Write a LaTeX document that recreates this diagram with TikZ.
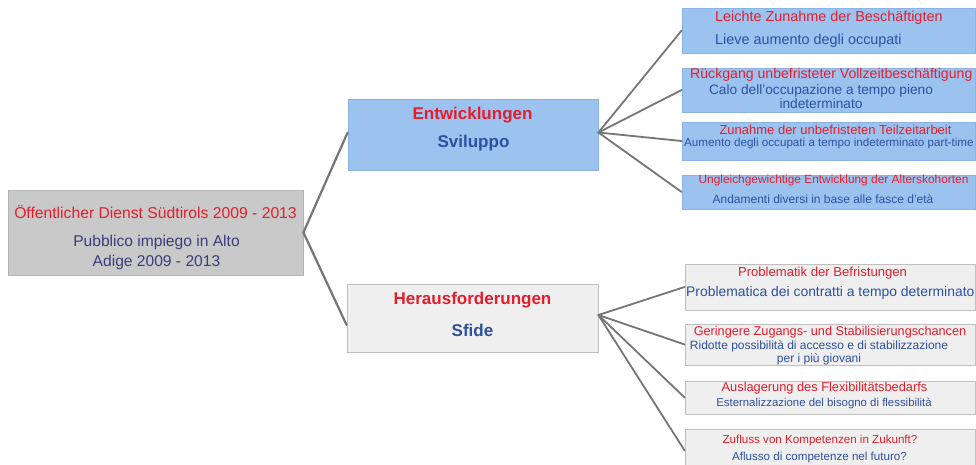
\documentclass[tikz,border=0pt]{standalone}
\usepackage{fontspec}
\setmainfont{Liberation Sans}
\newcommand\fsz[1]{\fontsize{#1}{#1}\selectfont}
\definecolor{ttlred}{RGB}{228,30,44}
\definecolor{subblue}{RGB}{45,80,160}
\definecolor{rootsub}{RGB}{60,60,125}
\definecolor{boxblue}{RGB}{156,195,240}
\definecolor{boxblueline}{RGB}{140,178,225}
\definecolor{boxgray}{RGB}{239,239,239}
\definecolor{boxgrayline}{RGB}{192,192,192}
\definecolor{rootfill}{RGB}{201,201,201}
\definecolor{rootline}{RGB}{180,180,180}
\definecolor{linkgray}{RGB}{118,118,118}
\tikzset{
  box/.style={draw, line width=0.8pt, inner sep=0pt},
  bluebox/.style={box, fill=boxblue, draw=boxblueline},
  graybox/.style={box, fill=boxgray, draw=boxgrayline},
  rootbox/.style={box, fill=rootfill, draw=rootline},
  txt/.style={inner sep=0pt, align=center},
  ttl/.style={txt, text=ttlred},
  sub/.style={txt, text=subblue},
  link/.style={draw=linkgray, line width=2.2pt, line cap=round},
  twig/.style={draw=linkgray, line width=1.8pt, line cap=round}
}
\begin{document}
\begin{tikzpicture}[x=1pt, y=-1pt]
\useasboundingbox (0,0) rectangle (976,465);
\fill[white] (0,0) rectangle (976,465);

% root
\node[rootbox, minimum width=295pt, minimum height=85pt] (root) at (155.5,232.5) {};
\node[ttl, font=\fsz{15.7}] (rootT) at (155.5,212) {Öffentlicher Dienst Südtirols 2009 - 2013};
\node[txt, text=rootsub, font=\fontsize{15.6}{20}\selectfont] (rootS) at (156.5,252) {Pubblico impiego in Alto\\Adige 2009 - 2013};

% second level
\node[bluebox, minimum width=250pt, minimum height=71pt] (dev) at (473,134.5) {};
\node[ttl, font=\fsz{17}\bfseries] (devT) at (472.5,115) {Entwicklungen};
\node[sub, font=\fsz{17}\bfseries] (devS) at (473.5,143) {Sviluppo};

\node[graybox, minimum width=251pt, minimum height=68pt] (chl) at (472.5,318) {};
\node[ttl, font=\fsz{17}\bfseries] (chlT) at (472.5,300) {Herausforderungen};
\node[sub, font=\fsz{17}\bfseries] (chlS) at (472.5,330) {Sfide};

% developments
\node[bluebox, minimum width=293pt, minimum height=45pt] (d1) at (828.5,30.5) {};
\node[ttl, anchor=west, font=\fsz{14.4}] (d1T) at (715,18) {Leichte Zunahme der Beschäftigten};
\node[sub, anchor=west, font=\fsz{14.4}] (d1S) at (715,41) {Lieve aumento degli occupati};

\node[bluebox, minimum width=293pt, minimum height=44pt] (d2) at (828.5,90) {};
\node[ttl, anchor=west, font=\fsz{14.1}] (d2T) at (690,75) {Rückgang unbefristeter Vollzeitbeschäftigung};
\node[sub, font=\fontsize{13.7}{14}\selectfont] (d2S) at (821,97) {Calo dell'occupazione a tempo pieno\\indeterminato};

\node[bluebox, minimum width=293pt, minimum height=38pt] (d3) at (828.5,141) {};
\node[ttl, font=\fsz{13}] (d3T) at (835.5,130) {Zunahme der unbefristeten Teilzeitarbeit};
\node[sub, anchor=west, font=\fsz{11.65}] (d3S) at (684,143) {Aumento degli occupati a tempo indeterminato part-time};

\node[bluebox, minimum width=293pt, minimum height=34pt] (d4) at (828.5,192) {};
\node[ttl, font=\fsz{11.9}] (d4T) at (833.5,180) {Ungleichgewichtige Entwicklung der Alterskohorten};
\node[sub, font=\fsz{12}] (d4S) at (823,199) {Andamenti diversi in base alle fasce d'età};

% challenges
\node[graybox, minimum width=290pt, minimum height=46pt] (c1) at (830,287) {};
\node[ttl, font=\fsz{13.1}] (c1T) at (822.5,273) {Problematik der Befristungen};
\node[sub, anchor=west, font=\fsz{13.9}] (c1S) at (686,293) {Problematica dei contratti a tempo determinato};

\node[graybox, minimum width=290pt, minimum height=41pt] (c2) at (830,344.5) {};
\node[ttl, font=\fsz{12.7}] (c2T) at (830,332) {Geringere Zugangs- und Stabilisierungschancen};
\node[sub, font=\fontsize{12}{12.5}\selectfont] (c2S) at (819,353) {Ridotte possibilità di accesso e di stabilizzazione\\per i più giovani};

\node[graybox, minimum width=290pt, minimum height=33pt] (c3) at (830,397.5) {};
\node[ttl, font=\fsz{12.8}] (c3T) at (824.5,388) {Auslagerung des Flexibilitätsbedarfs};
\node[sub, font=\fsz{11.4}] (c3S) at (824,403) {Esternalizzazione del bisogno di flessibilità};

\node[graybox, minimum width=290pt, minimum height=43pt] (c4) at (830,450.5) {};
\node[ttl, font=\fsz{11.6}] (c4T) at (820,440) {Zufluss von Kompetenzen in Zukunft?};
\node[sub, font=\fsz{11.6}] (c4S) at (819.5,457) {Aflusso di competenze nel futuro?};

% connectors
\draw[link] (root.east) -- ([yshift=2pt]dev.west);
\draw[link] (root.east) -- ([yshift=-7pt]chl.west);
\foreach \t in {d1,d2,d3,d4} \draw[twig] ([yshift=2pt]dev.east) -- (\t.west);
\foreach \t in {c1,c2,c3,c4} \draw[twig] ([yshift=3pt]chl.east) -- (\t.west);
\end{tikzpicture}
\end{document}
